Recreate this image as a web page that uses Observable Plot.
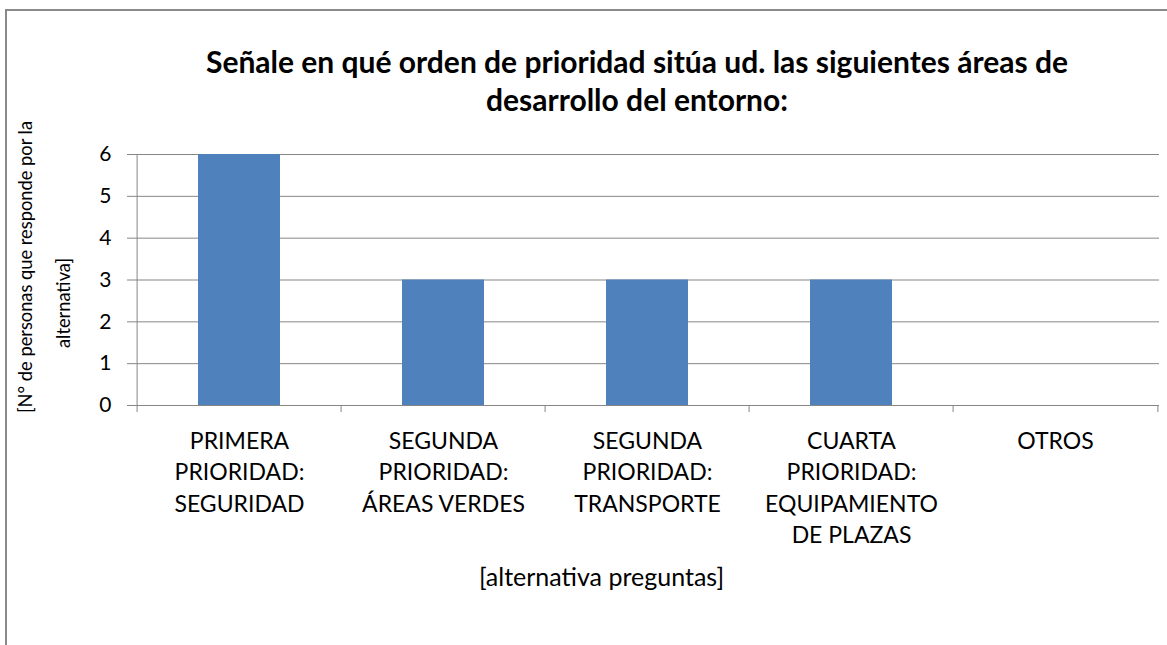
<!DOCTYPE html>
<html>
<head>
<meta charset="utf-8">
<script src="https://cdn.jsdelivr.net/npm/d3@7"></script>
<script src="https://cdn.jsdelivr.net/npm/@observablehq/plot@0.6"></script>
<style>
  html, body { margin: 0; padding: 0; background: #fff; overflow: hidden; }
  #wrap { position: relative; width: 1167px; height: 645px; overflow: hidden; font-family: Lato, "Open Sans", sans-serif; }
  #border { position: absolute; left: 5px; top: 9px; width: 1300px; height: 800px; border: 2px solid #8a8a8a; box-sizing: border-box; }
  #title { position: absolute; left: 137px; width: 1000px; top: 42px; text-align: center; font-weight: 700; font-size: 30px; line-height: 38px; color: #000; white-space: nowrap; }
  #chart { position: absolute; left: 0; top: 0; }
</style>
</head>
<body>
<div id="wrap">
  <div id="border"></div>
  <div id="title">Señale en qué orden de prioridad sitúa ud. las siguientes áreas de<br>desarrollo del entorno:</div>
  <div id="chart"></div>
</div>
<script>
const categories = [
  "PRIMERA PRIORIDAD: SEGURIDAD",
  "SEGUNDA PRIORIDAD: ÁREAS VERDES",
  "SEGUNDA PRIORIDAD: TRANSPORTE",
  "CUARTA PRIORIDAD: EQUIPAMIENTO DE PLAZAS",
  "OTROS"
];
const categoryLabels = [
  "PRIMERA\nPRIORIDAD:\nSEGURIDAD",
  "SEGUNDA\nPRIORIDAD:\nÁREAS VERDES",
  "SEGUNDA\nPRIORIDAD:\nTRANSPORTE",
  "CUARTA\nPRIORIDAD:\nEQUIPAMIENTO\nDE PLAZAS",
  "OTROS"
];
const values = [6, 3, 3, 3, 0];
const yTicks = [0, 1, 2, 3, 4, 5, 6];
const xTitle = "[alternativa preguntas]";
const yTitleLines = ["[N° de personas que responde por la", "alternativa]"];

const W = 1167, H = 645, mt = 154, mb = 240, ml = 135, mr = 8;
const step = (W - ml - mr) / categories.length;
const data = categories.map((c, i) => ({category: c, label: categoryLabels[i], value: values[i]}));
const grid = "#868686";

const chart = Plot.plot({
  width: W, height: H,
  marginTop: mt, marginBottom: mb, marginLeft: ml, marginRight: mr,
  style: {fontFamily: "Lato, 'Open Sans', sans-serif", background: "transparent", color: "#000", overflow: "visible"},
  x: {domain: categories, paddingInner: 0.6, paddingOuter: 0.3, axis: null},
  y: {domain: [0, 6], axis: null},
  marks: [
    Plot.gridY(yTicks, {stroke: grid, strokeOpacity: 1}),
    Plot.barY(data, {x: "category", y: "value", fill: "#4F81BD"}),
    Plot.ruleY([0], {stroke: grid}),
    Plot.ruleX([categories[0]], {dx: -step / 2, stroke: grid}),
    Plot.ruleX(categories, {dx: -step / 2, y1: 0, y2: 0, insetBottom: -7, stroke: grid}),
    Plot.ruleX([categories[categories.length - 1]], {dx: step / 2, y1: 0, y2: 0, insetBottom: -7, stroke: grid}),
    Plot.axisY(yTicks, {label: null, tickSize: 8, tickPadding: 16, stroke: grid, fill: "#000", fontSize: 21, tickFormat: d => String(d)}),
    Plot.text(data, {x: "category", text: "label", frameAnchor: "bottom", lineAnchor: "top", dy: 21, fontSize: 23, lineHeight: 1.37, fill: "#000"}),
    Plot.text([xTitle], {frameAnchor: "bottom", textAnchor: "middle", lineAnchor: "middle", dx: -46, dy: 172, fontSize: 25, fill: "#000"}),
    Plot.text([yTitleLines[0]], {frameAnchor: "left", textAnchor: "middle", rotate: -90, lineAnchor: "middle", dx: -109, dy: -13, fontSize: 18.3, fill: "#000"}),
    Plot.text([yTitleLines[1]], {frameAnchor: "left", textAnchor: "middle", rotate: -90, lineAnchor: "middle", dx: -71, dy: 23, fontSize: 18.3, fill: "#000"})
  ]
});
document.getElementById("chart").appendChild(chart);
</script>
</body>
</html>
